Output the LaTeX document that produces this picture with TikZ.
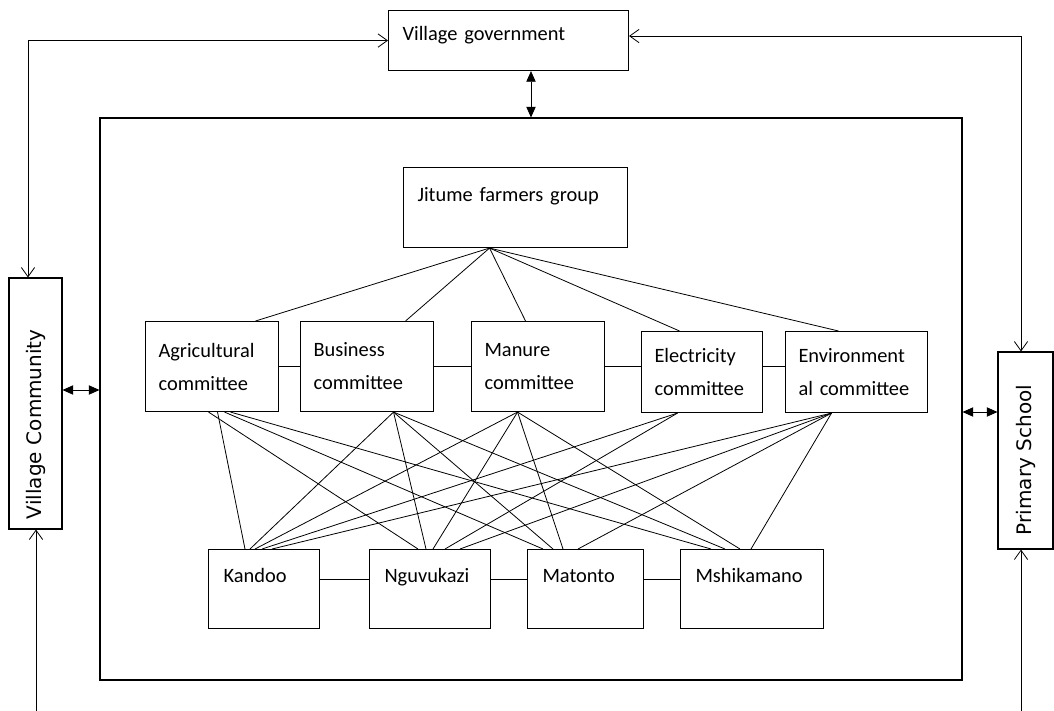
\documentclass[tikz,border=0pt]{standalone}
\usepackage{fontspec}
\setmainfont{Carlito}
\newfontfamily\sidefont{DejaVu Sans}
\usetikzlibrary{positioning,arrows.meta}
\newlength\px
\setlength\px{0.75pt}
\begin{document}
\begin{tikzpicture}[x=0.75pt,y=-0.75pt,line width=0.6pt,
    >={Straight Barb[length=7pt,width=10pt]},
    font=\fontsize{15.3}{24.75}\selectfont,
    twoway/.style={{Triangle[length=8pt,width=7pt]}-{Triangle[length=8pt,width=7pt]}},
    box/.style={draw, line width=0.8pt, anchor=north west, inner ysep=0pt, inner xsep=14\px, align=left},
    cbox/.style={box, inner xsep=13\px},
    gbox/.style={box, inner xsep=15\px, text height=33\px, text depth=46\px},
    side/.style={draw, line width=0.8pt, rotate=90, inner ysep=0pt, align=left, font=\sidefont\fontsize{15}{18}\selectfont}]

  \useasboundingbox (0,0) rectangle (1054,711);

  % outer ring
  \node[box, text width=212\px, text height=30\px, text depth=30\px] (vg) at (388,10) {Village government};
  \node[draw, line width=0.8pt, minimum width=862\px, minimum height=562\px, inner sep=0pt] (frame) at (531,399) {};
  \node[side, inner xsep=10\px, text width=231\px, minimum height=53\px] (vc) at (35.5,403.5) {Village Community};
  \node[side, inner xsep=14\px, text width=169\px, minimum height=55\px] (ps) at (1025.5,450.5) {Primary School};

  % group and committees
  \node[box, text width=196\px, text height=34\px, text depth=46\px] (jitume) at (403,167) {Jitume farmers group};
  \node[cbox, text width=107\px, minimum height=90\px] (agri) at (145,321) {Agricultural\\committee};
  \node[cbox, text width=107\px, minimum height=90\px] (bus) at (300,321) {Business\\committee};
  \node[cbox, text width=107\px, minimum height=90\px] (man) at (471,321) {Manure\\committee};
  \node[cbox, text width=95\px, minimum height=81\px] (elec) at (641,331) {Electricity\\committee};
  \node[cbox, text width=116\px, minimum height=81\px] (env) at (785,331) {Environment\\al committee};

  % working groups
  \node[gbox, text width=81\px] (kandoo) at (208,549) {Kandoo};
  \node[gbox, text width=91\px] (nguvu) at (369,549) {Nguvukazi};
  \node[gbox, text width=86\px] (maton) at (527,549) {Matonto};
  \node[gbox, text width=113\px] (mshik) at (680,549) {Mshikamano};

  % links round the frame
  \draw[<->] ([xshift=-7.5\px]vc.east) |- (vg.west);
  \draw[<->] ([xshift=-4.5\px]ps.east) |- ([yshift=4.5\px]vg.east);
  \coordinate (vcfoot) at (36,711);
  \coordinate (psfoot) at (1021,711);
  \draw[->] (vcfoot) -- (vcfoot |- vc.west);
  \draw[->] (psfoot) -- (psfoot |- ps.west);

  \coordinate (vcmid) at ([yshift=13.5\px]vc.south);
  \coordinate (psmid) at ([yshift=38.5\px]ps.north);
  \draw[twoway] (frame.north |- vg.south) -- (frame.north);
  \draw[twoway] (vcmid) -- (vcmid -| frame.west);
  \draw[twoway] (psmid -| frame.east) -- (psmid);

  % group to committees
  \foreach \n/\d in {agri/43.5, bus/38.5, man/-12.5, elec/-22.5, env/-18}
    \draw ([xshift=-26\px]jitume.south) -- ([xshift=\d\px]\n.north);

  \draw (agri) -- (bus);
  \draw (bus) -- (man);
  \draw (man.east) -- (man.east -| elec.west);
  \draw (elec.east |- man.east) -- (env.west |- man.east);

  \foreach \a/\b in {kandoo/nguvu, nguvu/maton, maton/mshik}
    \draw ([yshift=9.5\px]\a.east) -- ([yshift=9.5\px]\b.west);

  % committees to working groups
  \foreach \a/\da/\b/\db in {agri/5.5/kandoo/37, agri/-3.5/nguvu/49, agri/12.5/maton/16, agri/18.5/mshik/31,
      bus/26.5/kandoo/42, bus/26.5/nguvu/57, bus/26.5/maton/26, bus/26.5/mshik/45,
      man/-20.5/kandoo/47, man/-20.5/nguvu/64, man/-20.5/maton/36, man/-20.5/mshik/60,
      elec/-24.5/kandoo/54, elec/-24.5/nguvu/76,
      env/-25/kandoo/64, env/-25/nguvu/91, env/-25/maton/51, env/-25/mshik/71}
    \draw ([xshift=\da\px]\a.south) -- ([xshift=\db\px]\b.north west);
\end{tikzpicture}
\end{document}
